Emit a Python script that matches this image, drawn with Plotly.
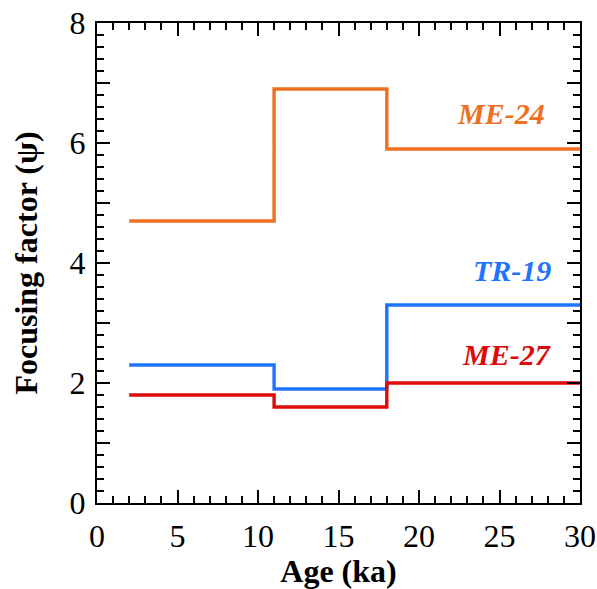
import plotly.graph_objects as go

age_edges = [2, 11, 18, 30]
me24 = [4.7, 6.9, 5.9]
tr19 = [2.3, 1.9, 3.3]
me27 = [1.8, 1.6, 2.0]

series = [
    ("ME-24", me24, "#F07022", 27.95, 6.5),
    ("TR-19", tr19, "#1F74FF", 28.3, 3.88),
    ("ME-27", me27, "#DD0A0A", 28.3, 2.47),
]

y_tickvals = [0, 1, 2, 3, 4, 5, 6, 7, 8]
y_ticktext = ["0", "", "2", "", "4", "", "6", "", "8"]
x_tickvals = [0, 5, 10, 15, 20, 25, 30]

FONT = "Liberation Serif, Times New Roman, serif"

fig = go.Figure()
for name, vals, color, lx, ly in series:
    fig.add_trace(go.Scatter(
        x=age_edges, y=vals + [vals[-1]], mode="lines", line_shape="hv",
        line=dict(color=color, width=3.4), name=name, showlegend=False,
    ))
    fig.add_annotation(x=lx, y=ly, text=name, showarrow=False, xanchor="right",
                       font=dict(family=FONT, size=30, color=color, weight="bold", style="italic"))

axis_common = dict(
    showgrid=False, zeroline=False, showline=True, linecolor="black", linewidth=2,
    mirror="ticks", ticks="inside", ticklen=13, tickwidth=2, tickcolor="black",
    tickfont=dict(family=FONT, size=32, color="black"),
    ticklabeloverflow="allow",
)

fig.update_xaxes(range=[0, 30], tickmode="array", tickvals=x_tickvals,
                 minor=dict(dtick=1, ticks="inside", ticklen=7, tickwidth=2, tickcolor="black"),
                 ticklabelstandoff=4,
                 title=dict(text="Age (ka)", font=dict(family=FONT, size=32, color="black", weight="bold"), standoff=4),
                 **axis_common)
fig.update_yaxes(range=[0, 8], tickmode="array", tickvals=y_tickvals, ticktext=y_ticktext,
                 minor=dict(dtick=0.2, ticks="inside", ticklen=7, tickwidth=2, tickcolor="black"),
                 ticklabelstandoff=3,
                 title=dict(text="Focusing factor (ψ)", font=dict(family=FONT, size=32, color="black", weight="bold"), standoff=22),
                 **axis_common)

fig.update_layout(
    width=597, height=589,
    margin=dict(l=97, r=17, t=23, b=86, autoexpand=False),
    plot_bgcolor="white", paper_bgcolor="white",
)

fig.write_html("out.html", config={"displayModeBar": False},
               post_script="document.body.style.margin='0';")
